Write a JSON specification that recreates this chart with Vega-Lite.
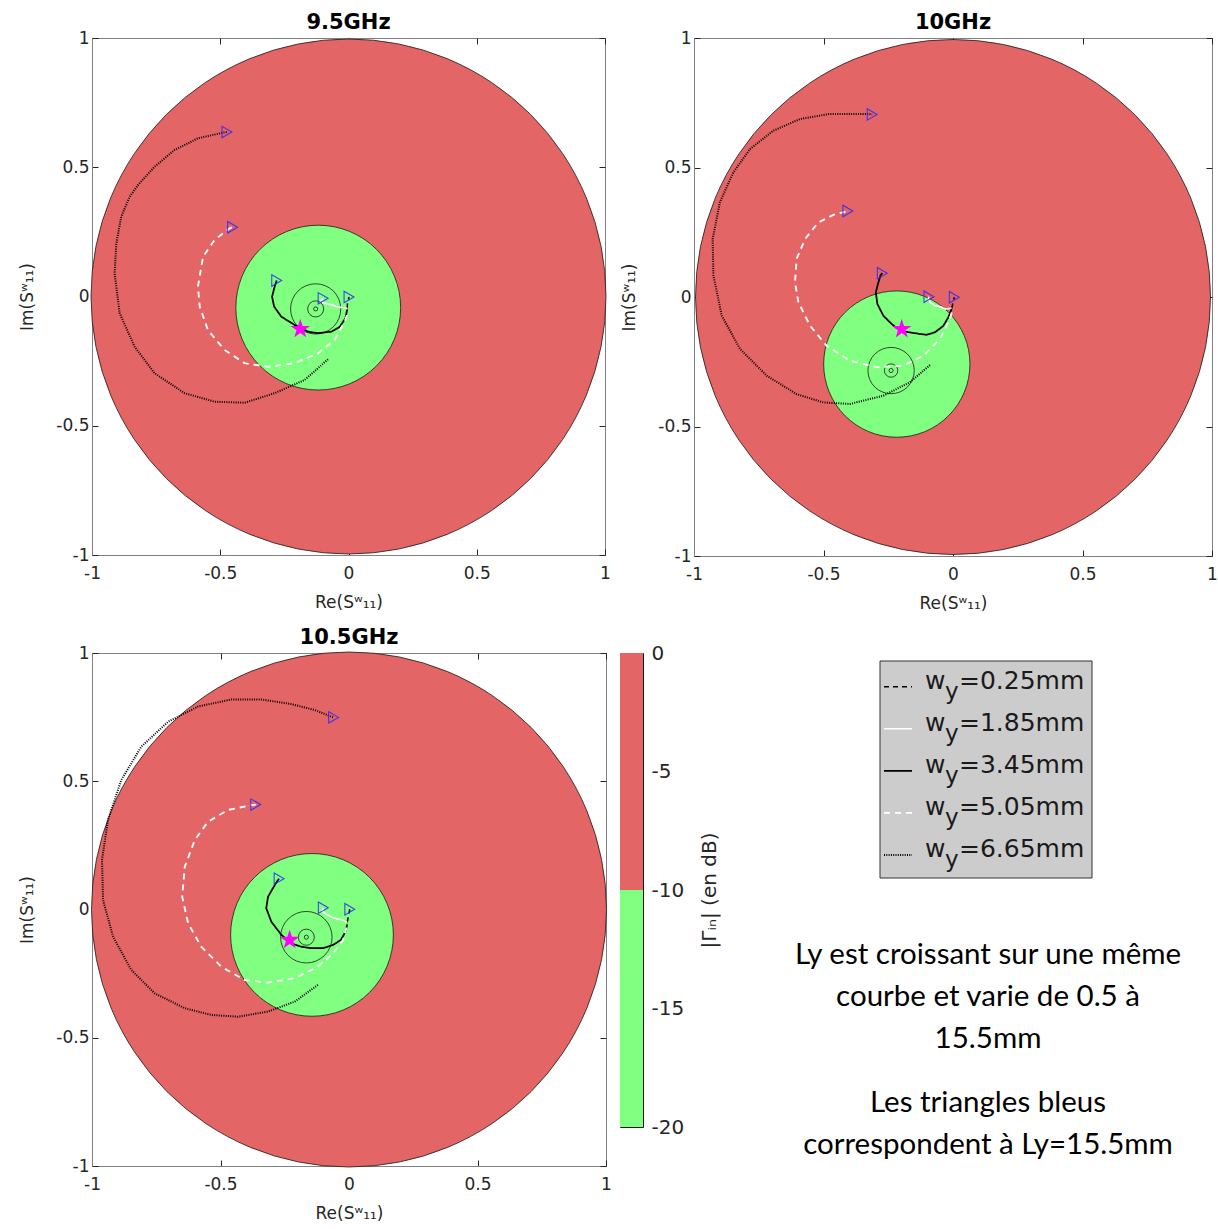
{
"$schema": "https://vega.github.io/schema/vega-lite/v6.json",
"padding": {"left": 18, "top": 11, "right": 0, "bottom": 0},
"autosize": {"type": "pad"},
"background": "white",
"config": {
  "font": "DejaVu Sans",
  "axis": {"labelFont": "DejaVu Sans", "titleFont": "DejaVu Sans", "labelFontSize": 17, "titleFontSize": 17, "titleFontWeight": "normal", "labelColor": "#262626", "titleColor": "#262626", "domainColor": "#808080", "tickColor": "#262626", "grid": false, "labelFlush": false, "labelOverlap": false},
  "title": {"font": "DejaVu Sans", "fontSize": 21, "fontWeight": "bold", "color": "#000000", "offset": -4},
  "view": {"stroke": "#808080"}
},
"datasets": {
  "disc1": [{"zone": "out", "x": 0, "y": 0, "r": 1}, {"zone": "in", "x": -0.118, "y": -0.043, "r": 0.32}],
  "ring1": [{"x": -0.128, "y": -0.048, "r": 0.0975}, {"x": -0.128, "y": -0.048, "r": 0.031}, {"x": -0.128, "y": -0.048, "r": 0.008}],
  "curve1": [
    {"w": "0.25", "k": 0, "x": -0.005, "y": -0.046}, {"w": "0.25", "k": 1, "x": -0.004, "y": -0.025}, {"w": "0.25", "k": 2, "x": 0.002, "y": -0.002},
    {"w": "1.85", "k": 0, "x": -0.005, "y": -0.046}, {"w": "1.85", "k": 1, "x": -0.028, "y": -0.042}, {"w": "1.85", "k": 2, "x": -0.048, "y": -0.039}, {"w": "1.85", "k": 3, "x": -0.060, "y": -0.033}, {"w": "1.85", "k": 4, "x": -0.080, "y": -0.029}, {"w": "1.85", "k": 5, "x": -0.099, "y": -0.024}, {"w": "1.85", "k": 6, "x": -0.106, "y": -0.014}, {"w": "1.85", "k": 7, "x": -0.099, "y": -0.007},
    {"w": "3.45", "k": 0, "x": -0.005, "y": -0.050}, {"w": "3.45", "k": 1, "x": -0.012, "y": -0.084}, {"w": "3.45", "k": 2, "x": -0.034, "y": -0.117}, {"w": "3.45", "k": 3, "x": -0.067, "y": -0.136}, {"w": "3.45", "k": 4, "x": -0.119, "y": -0.142}, {"w": "3.45", "k": 5, "x": -0.158, "y": -0.136}, {"w": "3.45", "k": 6, "x": -0.210, "y": -0.110}, {"w": "3.45", "k": 7, "x": -0.262, "y": -0.078}, {"w": "3.45", "k": 8, "x": -0.290, "y": -0.039}, {"w": "3.45", "k": 9, "x": -0.298, "y": -0.001}, {"w": "3.45", "k": 10, "x": -0.288, "y": 0.038}, {"w": "3.45", "k": 11, "x": -0.280, "y": 0.062},
    {"w": "5.05", "k": 0, "x": -0.006, "y": -0.072}, {"w": "5.05", "k": 1, "x": -0.015, "y": -0.097}, {"w": "5.05", "k": 2, "x": -0.054, "y": -0.168}, {"w": "5.05", "k": 3, "x": -0.119, "y": -0.220}, {"w": "5.05", "k": 4, "x": -0.210, "y": -0.258}, {"w": "5.05", "k": 5, "x": -0.314, "y": -0.272}, {"w": "5.05", "k": 6, "x": -0.405, "y": -0.258}, {"w": "5.05", "k": 7, "x": -0.483, "y": -0.207}, {"w": "5.05", "k": 8, "x": -0.548, "y": -0.130}, {"w": "5.05", "k": 9, "x": -0.580, "y": -0.039}, {"w": "5.05", "k": 10, "x": -0.587, "y": 0.038}, {"w": "5.05", "k": 11, "x": -0.567, "y": 0.154}, {"w": "5.05", "k": 12, "x": -0.522, "y": 0.219}, {"w": "5.05", "k": 13, "x": -0.463, "y": 0.264}, {"w": "5.05", "k": 14, "x": -0.452, "y": 0.268},
    {"w": "6.65", "k": 0, "x": -0.080, "y": -0.243}, {"w": "6.65", "k": 1, "x": -0.171, "y": -0.323}, {"w": "6.65", "k": 2, "x": -0.288, "y": -0.374}, {"w": "6.65", "k": 3, "x": -0.405, "y": -0.411}, {"w": "6.65", "k": 4, "x": -0.522, "y": -0.407}, {"w": "6.65", "k": 5, "x": -0.639, "y": -0.374}, {"w": "6.65", "k": 6, "x": -0.756, "y": -0.297}, {"w": "6.65", "k": 7, "x": -0.834, "y": -0.194}, {"w": "6.65", "k": 8, "x": -0.892, "y": -0.065}, {"w": "6.65", "k": 9, "x": -0.912, "y": 0.090}, {"w": "6.65", "k": 10, "x": -0.905, "y": 0.206}, {"w": "6.65", "k": 11, "x": -0.886, "y": 0.309}, {"w": "6.65", "k": 12, "x": -0.853, "y": 0.386}, {"w": "6.65", "k": 13, "x": -0.821, "y": 0.431}, {"w": "6.65", "k": 14, "x": -0.756, "y": 0.502}, {"w": "6.65", "k": 15, "x": -0.678, "y": 0.567}, {"w": "6.65", "k": 16, "x": -0.587, "y": 0.612}, {"w": "6.65", "k": 17, "x": -0.483, "y": 0.635}, {"w": "6.65", "k": 18, "x": -0.474, "y": 0.636}
  ],
  "tri1": [{"w": "0.25", "x": 0.002, "y": -0.002}, {"w": "1.85", "x": -0.099, "y": -0.007}, {"w": "3.45", "x": -0.280, "y": 0.062}, {"w": "5.05", "x": -0.452, "y": 0.268}, {"w": "6.65", "x": -0.474, "y": 0.636}],
  "star1": [{"x": -0.188, "y": -0.126}],
  "disc2": [{"zone": "out", "x": 0, "y": 0, "r": 1}, {"zone": "in", "x": -0.217, "y": -0.259, "r": 0.284}],
  "ring2": [{"x": -0.239, "y": -0.284, "r": 0.09}, {"x": -0.239, "y": -0.284, "r": 0.026}, {"x": -0.239, "y": -0.284, "r": 0.008}],
  "curve2": [
    {"w": "0.25", "k": 0, "x": -0.005, "y": -0.044}, {"w": "0.25", "k": 1, "x": 0.000, "y": -0.022}, {"w": "0.25", "k": 2, "x": 0.005, "y": -0.001},
    {"w": "1.85", "k": 0, "x": -0.005, "y": -0.044}, {"w": "1.85", "k": 1, "x": -0.031, "y": -0.046}, {"w": "1.85", "k": 2, "x": -0.050, "y": -0.037}, {"w": "1.85", "k": 3, "x": -0.069, "y": -0.034}, {"w": "1.85", "k": 4, "x": -0.089, "y": -0.020}, {"w": "1.85", "k": 5, "x": -0.095, "y": -0.005}, {"w": "1.85", "k": 6, "x": -0.093, "y": 0.001},
    {"w": "3.45", "k": 0, "x": -0.005, "y": -0.046}, {"w": "3.45", "k": 1, "x": -0.018, "y": -0.078}, {"w": "3.45", "k": 2, "x": -0.037, "y": -0.111}, {"w": "3.45", "k": 3, "x": -0.069, "y": -0.136}, {"w": "3.45", "k": 4, "x": -0.102, "y": -0.146}, {"w": "3.45", "k": 5, "x": -0.153, "y": -0.139}, {"w": "3.45", "k": 6, "x": -0.205, "y": -0.130}, {"w": "3.45", "k": 7, "x": -0.237, "y": -0.104}, {"w": "3.45", "k": 8, "x": -0.269, "y": -0.072}, {"w": "3.45", "k": 9, "x": -0.292, "y": -0.027}, {"w": "3.45", "k": 10, "x": -0.298, "y": 0.018}, {"w": "3.45", "k": 11, "x": -0.288, "y": 0.057}, {"w": "3.45", "k": 12, "x": -0.279, "y": 0.085}, {"w": "3.45", "k": 13, "x": -0.273, "y": 0.092},
    {"w": "5.05", "k": 0, "x": -0.005, "y": -0.060}, {"w": "5.05", "k": 1, "x": -0.012, "y": -0.085}, {"w": "5.05", "k": 2, "x": -0.050, "y": -0.162}, {"w": "5.05", "k": 3, "x": -0.115, "y": -0.227}, {"w": "5.05", "k": 4, "x": -0.192, "y": -0.265}, {"w": "5.05", "k": 5, "x": -0.295, "y": -0.271}, {"w": "5.05", "k": 6, "x": -0.398, "y": -0.246}, {"w": "5.05", "k": 7, "x": -0.488, "y": -0.188}, {"w": "5.05", "k": 8, "x": -0.552, "y": -0.111}, {"w": "5.05", "k": 9, "x": -0.597, "y": -0.020}, {"w": "5.05", "k": 10, "x": -0.610, "y": 0.057}, {"w": "5.05", "k": 11, "x": -0.604, "y": 0.147}, {"w": "5.05", "k": 12, "x": -0.571, "y": 0.224}, {"w": "5.05", "k": 13, "x": -0.520, "y": 0.288}, {"w": "5.05", "k": 14, "x": -0.462, "y": 0.317}, {"w": "5.05", "k": 15, "x": -0.417, "y": 0.329}, {"w": "5.05", "k": 16, "x": -0.406, "y": 0.332},
    {"w": "6.65", "k": 0, "x": -0.089, "y": -0.263}, {"w": "6.65", "k": 1, "x": -0.166, "y": -0.329}, {"w": "6.65", "k": 2, "x": -0.269, "y": -0.381}, {"w": "6.65", "k": 3, "x": -0.398, "y": -0.413}, {"w": "6.65", "k": 4, "x": -0.501, "y": -0.407}, {"w": "6.65", "k": 5, "x": -0.604, "y": -0.375}, {"w": "6.65", "k": 6, "x": -0.719, "y": -0.304}, {"w": "6.65", "k": 7, "x": -0.822, "y": -0.201}, {"w": "6.65", "k": 8, "x": -0.893, "y": -0.072}, {"w": "6.65", "k": 9, "x": -0.925, "y": 0.082}, {"w": "6.65", "k": 10, "x": -0.928, "y": 0.224}, {"w": "6.65", "k": 11, "x": -0.900, "y": 0.366}, {"w": "6.65", "k": 12, "x": -0.848, "y": 0.481}, {"w": "6.65", "k": 13, "x": -0.784, "y": 0.571}, {"w": "6.65", "k": 14, "x": -0.694, "y": 0.642}, {"w": "6.65", "k": 15, "x": -0.591, "y": 0.687}, {"w": "6.65", "k": 16, "x": -0.475, "y": 0.707}, {"w": "6.65", "k": 17, "x": -0.327, "y": 0.707}, {"w": "6.65", "k": 18, "x": -0.312, "y": 0.705}
  ],
  "tri2": [{"w": "0.25", "x": 0.005, "y": -0.001}, {"w": "1.85", "x": -0.093, "y": 0.001}, {"w": "3.45", "x": -0.273, "y": 0.092}, {"w": "5.05", "x": -0.406, "y": 0.332}, {"w": "6.65", "x": -0.312, "y": 0.705}],
  "star2": [{"x": -0.198, "y": -0.124}],
  "disc3": [{"zone": "out", "x": 0, "y": 0, "r": 1}, {"zone": "in", "x": -0.144, "y": -0.099, "r": 0.316}],
  "ring3": [{"x": -0.166, "y": -0.108, "r": 0.10}, {"x": -0.166, "y": -0.108, "r": 0.031}, {"x": -0.166, "y": -0.108, "r": 0.008}],
  "curve3": [
    {"w": "0.25", "k": 0, "x": -0.007, "y": -0.050}, {"w": "0.25", "k": 1, "x": -0.002, "y": -0.025}, {"w": "0.25", "k": 2, "x": 0.003, "y": 0.001},
    {"w": "1.85", "k": 0, "x": -0.007, "y": -0.050}, {"w": "1.85", "k": 1, "x": -0.023, "y": -0.041}, {"w": "1.85", "k": 2, "x": -0.043, "y": -0.037}, {"w": "1.85", "k": 3, "x": -0.062, "y": -0.032}, {"w": "1.85", "k": 4, "x": -0.088, "y": -0.019}, {"w": "1.85", "k": 5, "x": -0.105, "y": -0.006}, {"w": "1.85", "k": 6, "x": -0.100, "y": 0.007},
    {"w": "3.45", "k": 0, "x": -0.007, "y": -0.058}, {"w": "3.45", "k": 1, "x": -0.014, "y": -0.087}, {"w": "3.45", "k": 2, "x": -0.032, "y": -0.119}, {"w": "3.45", "k": 3, "x": -0.062, "y": -0.138}, {"w": "3.45", "k": 4, "x": -0.101, "y": -0.151}, {"w": "3.45", "k": 5, "x": -0.147, "y": -0.151}, {"w": "3.45", "k": 6, "x": -0.186, "y": -0.145}, {"w": "3.45", "k": 7, "x": -0.225, "y": -0.132}, {"w": "3.45", "k": 8, "x": -0.263, "y": -0.099}, {"w": "3.45", "k": 9, "x": -0.302, "y": -0.048}, {"w": "3.45", "k": 10, "x": -0.322, "y": 0.005}, {"w": "3.45", "k": 11, "x": -0.315, "y": 0.050}, {"w": "3.45", "k": 12, "x": -0.296, "y": 0.083}, {"w": "3.45", "k": 13, "x": -0.279, "y": 0.111}, {"w": "3.45", "k": 14, "x": -0.272, "y": 0.120},
    {"w": "5.05", "k": 0, "x": -0.010, "y": -0.070}, {"w": "5.05", "k": 1, "x": -0.023, "y": -0.119}, {"w": "5.05", "k": 2, "x": -0.062, "y": -0.171}, {"w": "5.05", "k": 3, "x": -0.121, "y": -0.223}, {"w": "5.05", "k": 4, "x": -0.211, "y": -0.268}, {"w": "5.05", "k": 5, "x": -0.315, "y": -0.285}, {"w": "5.05", "k": 6, "x": -0.406, "y": -0.275}, {"w": "5.05", "k": 7, "x": -0.497, "y": -0.223}, {"w": "5.05", "k": 8, "x": -0.575, "y": -0.145}, {"w": "5.05", "k": 9, "x": -0.626, "y": -0.054}, {"w": "5.05", "k": 10, "x": -0.649, "y": 0.050}, {"w": "5.05", "k": 11, "x": -0.639, "y": 0.167}, {"w": "5.05", "k": 12, "x": -0.600, "y": 0.271}, {"w": "5.05", "k": 13, "x": -0.549, "y": 0.342}, {"w": "5.05", "k": 14, "x": -0.471, "y": 0.388}, {"w": "5.05", "k": 15, "x": -0.380, "y": 0.407}, {"w": "5.05", "k": 16, "x": -0.363, "y": 0.409},
    {"w": "6.65", "k": 0, "x": -0.121, "y": -0.294}, {"w": "6.65", "k": 1, "x": -0.211, "y": -0.359}, {"w": "6.65", "k": 2, "x": -0.315, "y": -0.398}, {"w": "6.65", "k": 3, "x": -0.432, "y": -0.418}, {"w": "6.65", "k": 4, "x": -0.536, "y": -0.411}, {"w": "6.65", "k": 5, "x": -0.639, "y": -0.385}, {"w": "6.65", "k": 6, "x": -0.756, "y": -0.327}, {"w": "6.65", "k": 7, "x": -0.847, "y": -0.236}, {"w": "6.65", "k": 8, "x": -0.918, "y": -0.106}, {"w": "6.65", "k": 9, "x": -0.957, "y": 0.037}, {"w": "6.65", "k": 10, "x": -0.961, "y": 0.193}, {"w": "6.65", "k": 11, "x": -0.938, "y": 0.349}, {"w": "6.65", "k": 12, "x": -0.886, "y": 0.505}, {"w": "6.65", "k": 13, "x": -0.808, "y": 0.635}, {"w": "6.65", "k": 14, "x": -0.704, "y": 0.732}, {"w": "6.65", "k": 15, "x": -0.588, "y": 0.791}, {"w": "6.65", "k": 16, "x": -0.458, "y": 0.819}, {"w": "6.65", "k": 17, "x": -0.341, "y": 0.819}, {"w": "6.65", "k": 18, "x": -0.225, "y": 0.801}, {"w": "6.65", "k": 19, "x": -0.134, "y": 0.778}, {"w": "6.65", "k": 20, "x": -0.069, "y": 0.752}, {"w": "6.65", "k": 21, "x": -0.060, "y": 0.749}
  ],
  "tri3": [{"w": "0.25", "x": 0.003, "y": 0.001}, {"w": "1.85", "x": -0.100, "y": 0.007}, {"w": "3.45", "x": -0.272, "y": 0.120}, {"w": "5.05", "x": -0.363, "y": 0.409}, {"w": "6.65", "x": -0.060, "y": 0.749}],
  "star3": [{"x": -0.231, "y": -0.119}],
  "cbar": [{"level": "above -10 dB", "lo": -10, "hi": 0}, {"level": "below -10 dB", "lo": -20, "hi": -10}],
  "legend": [{"w": "0.25", "t": "=0.25mm"}, {"w": "1.85", "t": "=1.85mm"}, {"w": "3.45", "t": "=3.45mm"}, {"w": "5.05", "t": "=5.05mm"}, {"w": "6.65", "t": "=6.65mm"}]
},
"spacing": 14,
"vconcat": [
  {
    "bounds": "flush",
    "spacing": 89,
    "hconcat": [
      {
        "width": 513, "height": 517,
        "title": "9.5GHz",
        "resolve": {"axis": {"x": "independent", "y": "independent"}},
        "layer": [
          {"data": {"name": "disc1"}, "mark": {"type": "point", "shape": "circle", "filled": true, "stroke": "#1a1a1a", "strokeWidth": 0.8, "opacity": 1},
           "encoding": {
             "x": {"field": "x", "type": "quantitative", "scale": {"domain": [-1, 1], "nice": false, "zero": false}, "axis": {"values": [-1, -0.5, 0, 0.5, 1], "labelExpr": "'' + datum.value", "title": "Re(Sʷ₁₁)", "tickSize": -6, "labelPadding": 16, "titlePadding": 13}},
             "y": {"field": "y", "type": "quantitative", "scale": {"domain": [-1, 1], "nice": false, "zero": false}, "axis": {"values": [-1, -0.5, 0, 0.5, 1], "labelExpr": "'' + datum.value", "title": "Im(Sʷ₁₁)", "tickSize": -6, "labelPadding": 9, "titlePadding": 19}},
             "size": {"field": "r", "type": "quantitative", "scale": {"type": "pow", "exponent": 2, "domain": [0, 1], "range": [0, 265225]}, "legend": null},
             "fill": {"field": "zone", "type": "nominal", "scale": {"domain": ["out", "in"], "range": ["#e36565", "#80ff80"]}, "legend": null}
           }},
          {"data": {"name": "ring1"}, "mark": {"type": "point", "shape": "circle", "filled": false, "color": "#1a1a1a", "strokeWidth": 0.8, "opacity": 1},
           "encoding": {"x": {"field": "x", "type": "quantitative", "axis": null}, "y": {"field": "y", "type": "quantitative", "axis": null}, "size": {"field": "r", "type": "quantitative"}}},
          {"data": {"name": "curve1"}, "mark": {"type": "line", "strokeCap": "butt"},
           "encoding": {"x": {"field": "x", "type": "quantitative", "axis": null}, "y": {"field": "y", "type": "quantitative", "axis": null}, "order": {"field": "k", "type": "quantitative"},
             "color": {"field": "w", "type": "nominal", "scale": {"domain": ["0.25", "1.85", "3.45", "5.05", "6.65"], "range": ["#000000", "#ffffff", "#000000", "#ffffff", "#000000"]}, "legend": null},
             "strokeDash": {"field": "w", "type": "nominal", "scale": {"domain": ["0.25", "1.85", "3.45", "5.05", "6.65"], "range": [[5, 4], [1, 0], [1, 0], [6, 5], [1, 1.3]]}, "legend": null},
             "strokeWidth": {"field": "w", "type": "ordinal", "scale": {"domain": ["0.25", "1.85", "3.45", "5.05", "6.65"], "range": [1.5, 2, 2, 2.2, 1.8]}, "legend": null}}},
          {"data": {"name": "tri1"}, "mark": {"type": "point", "shape": "triangle-right", "filled": false, "color": "#2a2aff", "size": 130, "strokeWidth": 1.1, "opacity": 0.85},
           "encoding": {"x": {"field": "x", "type": "quantitative", "axis": {"orient": "top", "values": [-1, -0.5, 0, 0.5, 1], "labels": false, "title": null, "domain": false, "tickSize": -6}}, "y": {"field": "y", "type": "quantitative", "axis": {"orient": "right", "values": [-1, -0.5, 0, 0.5, 1], "labels": false, "title": null, "domain": false, "tickSize": -6}}}},
          {"data": {"name": "star1"}, "mark": {"type": "point", "shape": "M0,-1L0.225,-0.309L0.951,-0.309L0.363,0.118L0.588,0.809L0,0.382L-0.588,0.809L-0.363,0.118L-0.951,-0.309L-0.225,-0.309Z", "filled": true, "color": "#ff00ff", "size": 420, "opacity": 1},
           "encoding": {"x": {"field": "x", "type": "quantitative", "axis": null}, "y": {"field": "y", "type": "quantitative", "axis": null}}}
        ]
      },
      {
        "width": 518, "height": 518,
        "title": "10GHz",
        "resolve": {"axis": {"x": "independent", "y": "independent"}},
        "layer": [
          {"data": {"name": "disc2"}, "mark": {"type": "point", "shape": "circle", "filled": true, "stroke": "#1a1a1a", "strokeWidth": 0.8, "opacity": 1},
           "encoding": {
             "x": {"field": "x", "type": "quantitative", "scale": {"domain": [-1, 1], "nice": false, "zero": false}, "axis": {"values": [-1, -0.5, 0, 0.5, 1], "labelExpr": "'' + datum.value", "title": "Re(Sʷ₁₁)", "tickSize": -6, "labelPadding": 16, "titlePadding": 13}},
             "y": {"field": "y", "type": "quantitative", "scale": {"domain": [-1, 1], "nice": false, "zero": false}, "axis": {"values": [-1, -0.5, 0, 0.5, 1], "labelExpr": "'' + datum.value", "title": "Im(Sʷ₁₁)", "tickSize": -6, "labelPadding": 9, "titlePadding": 19}},
             "size": {"field": "r", "type": "quantitative", "scale": {"type": "pow", "exponent": 2, "domain": [0, 1], "range": [0, 268324]}, "legend": null},
             "fill": {"field": "zone", "type": "nominal", "scale": {"domain": ["out", "in"], "range": ["#e36565", "#80ff80"]}, "legend": null}
           }},
          {"data": {"name": "ring2"}, "mark": {"type": "point", "shape": "circle", "filled": false, "color": "#1a1a1a", "strokeWidth": 0.8, "opacity": 1},
           "encoding": {"x": {"field": "x", "type": "quantitative", "axis": null}, "y": {"field": "y", "type": "quantitative", "axis": null}, "size": {"field": "r", "type": "quantitative"}}},
          {"data": {"name": "curve2"}, "mark": {"type": "line", "strokeCap": "butt"},
           "encoding": {"x": {"field": "x", "type": "quantitative", "axis": null}, "y": {"field": "y", "type": "quantitative", "axis": null}, "order": {"field": "k", "type": "quantitative"},
             "color": {"field": "w", "type": "nominal", "scale": {"domain": ["0.25", "1.85", "3.45", "5.05", "6.65"], "range": ["#000000", "#ffffff", "#000000", "#ffffff", "#000000"]}, "legend": null},
             "strokeDash": {"field": "w", "type": "nominal", "scale": {"domain": ["0.25", "1.85", "3.45", "5.05", "6.65"], "range": [[5, 4], [1, 0], [1, 0], [6, 5], [1, 1.3]]}, "legend": null},
             "strokeWidth": {"field": "w", "type": "ordinal", "scale": {"domain": ["0.25", "1.85", "3.45", "5.05", "6.65"], "range": [1.5, 2, 2, 2.2, 1.8]}, "legend": null}}},
          {"data": {"name": "tri2"}, "mark": {"type": "point", "shape": "triangle-right", "filled": false, "color": "#2a2aff", "size": 130, "strokeWidth": 1.1, "opacity": 0.85},
           "encoding": {"x": {"field": "x", "type": "quantitative", "axis": {"orient": "top", "values": [-1, -0.5, 0, 0.5, 1], "labels": false, "title": null, "domain": false, "tickSize": -6}}, "y": {"field": "y", "type": "quantitative", "axis": {"orient": "right", "values": [-1, -0.5, 0, 0.5, 1], "labels": false, "title": null, "domain": false, "tickSize": -6}}}},
          {"data": {"name": "star2"}, "mark": {"type": "point", "shape": "M0,-1L0.225,-0.309L0.951,-0.309L0.363,0.118L0.588,0.809L0,0.382L-0.588,0.809L-0.363,0.118L-0.951,-0.309L-0.225,-0.309Z", "filled": true, "color": "#ff00ff", "size": 420, "opacity": 1},
           "encoding": {"x": {"field": "x", "type": "quantitative", "axis": null}, "y": {"field": "y", "type": "quantitative", "axis": null}}}
        ]
      }
    ]
  },
  {
    "bounds": "flush",
    "spacing": 14,
    "hconcat": [
      {
        "width": 514, "height": 513,
        "title": "10.5GHz",
        "resolve": {"axis": {"x": "independent", "y": "independent"}},
        "layer": [
          {"data": {"name": "disc3"}, "mark": {"type": "point", "shape": "circle", "filled": true, "stroke": "#1a1a1a", "strokeWidth": 0.8, "opacity": 1},
           "encoding": {
             "x": {"field": "x", "type": "quantitative", "scale": {"domain": [-1, 1], "nice": false, "zero": false}, "axis": {"values": [-1, -0.5, 0, 0.5, 1], "labelExpr": "'' + datum.value", "title": "Re(Sʷ₁₁)", "tickSize": -6, "labelPadding": 16, "titlePadding": 13}},
             "y": {"field": "y", "type": "quantitative", "scale": {"domain": [-1, 1], "nice": false, "zero": false}, "axis": {"values": [-1, -0.5, 0, 0.5, 1], "labelExpr": "'' + datum.value", "title": "Im(Sʷ₁₁)", "tickSize": -6, "labelPadding": 9, "titlePadding": 19}},
             "size": {"field": "r", "type": "quantitative", "scale": {"type": "pow", "exponent": 2, "domain": [0, 1], "range": [0, 263682]}, "legend": null},
             "fill": {"field": "zone", "type": "nominal", "scale": {"domain": ["out", "in"], "range": ["#e36565", "#80ff80"]}, "legend": null}
           }},
          {"data": {"name": "ring3"}, "mark": {"type": "point", "shape": "circle", "filled": false, "color": "#1a1a1a", "strokeWidth": 0.8, "opacity": 1},
           "encoding": {"x": {"field": "x", "type": "quantitative", "axis": null}, "y": {"field": "y", "type": "quantitative", "axis": null}, "size": {"field": "r", "type": "quantitative"}}},
          {"data": {"name": "curve3"}, "mark": {"type": "line", "strokeCap": "butt"},
           "encoding": {"x": {"field": "x", "type": "quantitative", "axis": null}, "y": {"field": "y", "type": "quantitative", "axis": null}, "order": {"field": "k", "type": "quantitative"},
             "color": {"field": "w", "type": "nominal", "scale": {"domain": ["0.25", "1.85", "3.45", "5.05", "6.65"], "range": ["#000000", "#ffffff", "#000000", "#ffffff", "#000000"]}, "legend": null},
             "strokeDash": {"field": "w", "type": "nominal", "scale": {"domain": ["0.25", "1.85", "3.45", "5.05", "6.65"], "range": [[5, 4], [1, 0], [1, 0], [6, 5], [1, 1.3]]}, "legend": null},
             "strokeWidth": {"field": "w", "type": "ordinal", "scale": {"domain": ["0.25", "1.85", "3.45", "5.05", "6.65"], "range": [1.5, 2, 2, 2.2, 1.8]}, "legend": null}}},
          {"data": {"name": "tri3"}, "mark": {"type": "point", "shape": "triangle-right", "filled": false, "color": "#2a2aff", "size": 130, "strokeWidth": 1.1, "opacity": 0.85},
           "encoding": {"x": {"field": "x", "type": "quantitative", "axis": {"orient": "top", "values": [-1, -0.5, 0, 0.5, 1], "labels": false, "title": null, "domain": false, "tickSize": -6}}, "y": {"field": "y", "type": "quantitative", "axis": {"orient": "right", "values": [-1, -0.5, 0, 0.5, 1], "labels": false, "title": null, "domain": false, "tickSize": -6}}}},
          {"data": {"name": "star3"}, "mark": {"type": "point", "shape": "M0,-1L0.225,-0.309L0.951,-0.309L0.363,0.118L0.588,0.809L0,0.382L-0.588,0.809L-0.363,0.118L-0.951,-0.309L-0.225,-0.309Z", "filled": true, "color": "#ff00ff", "size": 420, "opacity": 1},
           "encoding": {"x": {"field": "x", "type": "quantitative", "axis": null}, "y": {"field": "y", "type": "quantitative", "axis": null}}}
        ]
      },
      {
        "width": 23, "height": 474,
        "view": {"stroke": "#1a1a1a", "strokeWidth": 1},
        "data": {"name": "cbar"},
        "mark": {"type": "rect"},
        "encoding": {
          "x": {"datum": 0, "type": "quantitative", "scale": {"domain": [0, 1], "nice": false, "zero": false}, "axis": null},
          "x2": {"datum": 1},
          "y": {"field": "lo", "type": "quantitative", "scale": {"domain": [-20, 0], "nice": false, "zero": false}, "axis": {"orient": "right", "values": [0, -5, -10, -15, -20], "labelExpr": "'' + datum.value", "title": "|Γᵢₙ| (en dB)", "titleAngle": 270, "labelFontSize": 20, "titleFontSize": 20, "tickSize": -4, "labelPadding": 12, "titlePadding": 36, "domain": false}},
          "y2": {"field": "hi"},
          "fill": {"field": "level", "type": "nominal", "scale": {"domain": ["above -10 dB", "below -10 dB"], "range": ["#e36565", "#80ff80"]}, "legend": null}
        }
      },
      {
        "width": 558, "height": 513,
        "view": {"stroke": null},
        "resolve": {"scale": {"y": "independent"}},
        "layer": [
          {"data": {"values": [{"item": "legend box"}]}, "mark": {"type": "rect", "fill": "#cccccc", "stroke": "#333333", "strokeWidth": 1},
           "encoding": {"x": {"datum": 223, "type": "quantitative", "scale": {"domain": [0, 558], "nice": false, "zero": false}, "axis": null}, "x2": {"datum": 435},
                        "y": {"datum": 8, "type": "quantitative", "scale": {"domain": [0, 513], "reverse": true, "nice": false, "zero": false}, "axis": null}, "y2": {"datum": 225}}},
          {"data": {"name": "legend"}, "mark": {"type": "rule", "strokeCap": "butt"},
           "encoding": {"x": {"datum": 227, "type": "quantitative"}, "x2": {"datum": 255},
             "y": {"field": "w", "type": "ordinal", "scale": {"type": "point", "domain": ["0.25", "1.85", "3.45", "5.05", "6.65"], "range": [33.7, 202], "padding": 0}, "axis": null},
             "color": {"field": "w", "type": "nominal", "scale": {"domain": ["0.25", "1.85", "3.45", "5.05", "6.65"], "range": ["#000000", "#ffffff", "#000000", "#ffffff", "#000000"]}, "legend": null},
             "strokeDash": {"field": "w", "type": "nominal", "scale": {"domain": ["0.25", "1.85", "3.45", "5.05", "6.65"], "range": [[5, 4], [1, 0], [1, 0], [6, 5], [1, 1.3]]}, "legend": null},
             "strokeWidth": {"field": "w", "type": "ordinal", "scale": {"domain": ["0.25", "1.85", "3.45", "5.05", "6.65"], "range": [2, 2.5, 2.5, 2.5, 2]}, "legend": null}}},
          {"data": {"name": "legend"}, "mark": {"type": "text", "text": "w", "align": "left", "baseline": "alphabetic", "dy": 2, "font": "DejaVu Sans", "fontSize": 25, "color": "#1a1a1a"},
           "encoding": {"x": {"datum": 268, "type": "quantitative"},
             "y": {"field": "w", "type": "ordinal", "scale": {"type": "point", "domain": ["0.25", "1.85", "3.45", "5.05", "6.65"], "range": [33.7, 202], "padding": 0}, "axis": null}}},
          {"data": {"name": "legend"}, "mark": {"type": "text", "text": "y", "align": "left", "baseline": "alphabetic", "dy": 12, "font": "DejaVu Sans", "fontSize": 23, "color": "#1a1a1a"},
           "encoding": {"x": {"datum": 288, "type": "quantitative"},
             "y": {"field": "w", "type": "ordinal", "scale": {"type": "point", "domain": ["0.25", "1.85", "3.45", "5.05", "6.65"], "range": [33.7, 202], "padding": 0}, "axis": null}}},
          {"data": {"name": "legend"}, "mark": {"type": "text", "align": "left", "baseline": "alphabetic", "dy": 2, "font": "DejaVu Sans", "fontSize": 25, "color": "#1a1a1a"},
           "encoding": {"x": {"datum": 302, "type": "quantitative"}, "text": {"field": "t"},
             "y": {"field": "w", "type": "ordinal", "scale": {"type": "point", "domain": ["0.25", "1.85", "3.45", "5.05", "6.65"], "range": [33.7, 202], "padding": 0}, "axis": null}}},
          {"data": {"values": [{"txt": "Ly est croissant sur une même\ncourbe et varie de 0.5 à\n15.5mm"}]}, "mark": {"type": "text", "align": "center", "baseline": "top", "lineBreak": "\n", "lineHeight": 42, "font": "Lato", "fontSize": 29.5, "color": "#000000"},
           "encoding": {"x": {"datum": 331, "type": "quantitative"}, "y": {"datum": 288, "type": "quantitative", "scale": {"domain": [0, 513], "reverse": true, "nice": false, "zero": false}, "axis": null}, "text": {"field": "txt"}}},
          {"data": {"values": [{"txt": "Les triangles bleus\ncorrespondent à Ly=15.5mm"}]}, "mark": {"type": "text", "align": "center", "baseline": "top", "lineBreak": "\n", "lineHeight": 42, "font": "Lato", "fontSize": 29.5, "color": "#000000"},
           "encoding": {"x": {"datum": 331, "type": "quantitative"}, "y": {"datum": 436, "type": "quantitative", "scale": {"domain": [0, 513], "reverse": true, "nice": false, "zero": false}, "axis": null}, "text": {"field": "txt"}}}
        ]
      }
    ]
  }
]
}
